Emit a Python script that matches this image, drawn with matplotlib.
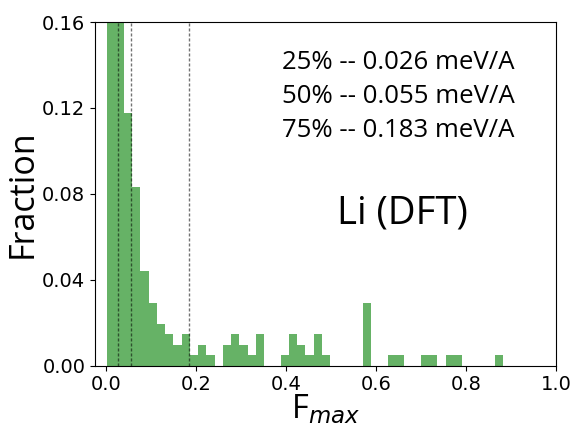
import numpy as np
import matplotlib

matplotlib.use("Agg")
import matplotlib.pyplot as plt

# histogram of F_max (fraction per bin), 48 equal bins
bin_lo, bin_hi, n_bins = 0.0025, 0.883, 48
fractions = [
    0.206, 0.270, 0.1176, 0.0833, 0.0441, 0.0294, 0.0196, 0.0147,
    0.0098, 0.0147, 0.0049, 0.0098, 0.0049, 0.0, 0.0098, 0.0147,
    0.0098, 0.0049, 0.0147, 0.0, 0.0, 0.0049, 0.0147, 0.0098,
    0.0049, 0.0147, 0.0049, 0.0, 0.0, 0.0, 0.0, 0.0294,
    0.0, 0.0, 0.0049, 0.0049, 0.0, 0.0, 0.0049, 0.0049,
    0.0, 0.0049, 0.0049, 0.0, 0.0, 0.0, 0.0, 0.0049,
]
quartile_pct = [25, 50, 75]
quartile_val = [0.026, 0.055, 0.183]
label = "Li (DFT)"

edges = np.linspace(bin_lo, bin_hi, n_bins + 1)
text_font = "Open Sans"

fig = plt.figure(figsize=(5.74, 4.30), dpi=100)
ax = fig.add_axes([0.1655, 0.1495, 0.8031, 0.7993])

ax.hist(edges[:-1], bins=edges, weights=fractions, color="green", alpha=0.6)
for q in quartile_val:
    ax.axvline(q, color="k", alpha=0.55, lw=1.0, ls=(0, (2.2, 1.4)))

ax.set_xlim(-0.025, 1.0)
ax.set_ylim(0, 0.16)
ax.set_xticks(np.arange(0, 1.01, 0.2))
ax.set_yticks(np.arange(0, 0.161, 0.04))
ax.tick_params(labelsize=14)

ax.set_ylabel("Fraction", fontsize=24.5, fontfamily=text_font, labelpad=2)
ax.set_xlabel(r"F$_{max}$", fontsize=23.5, fontfamily=text_font, labelpad=-1)

for i, (p, v) in enumerate(zip(quartile_pct, quartile_val)):
    ax.text(0.39, 0.1379 - i * 0.0157, f"{p}% -- {v:.3f} meV/A",
            fontsize=18.5, fontfamily=text_font, va="baseline")
ax.text(0.5125, 0.0662, label, fontsize=27.5, fontfamily=text_font,
        va="baseline")

fig.savefig("out.png", dpi=100)
